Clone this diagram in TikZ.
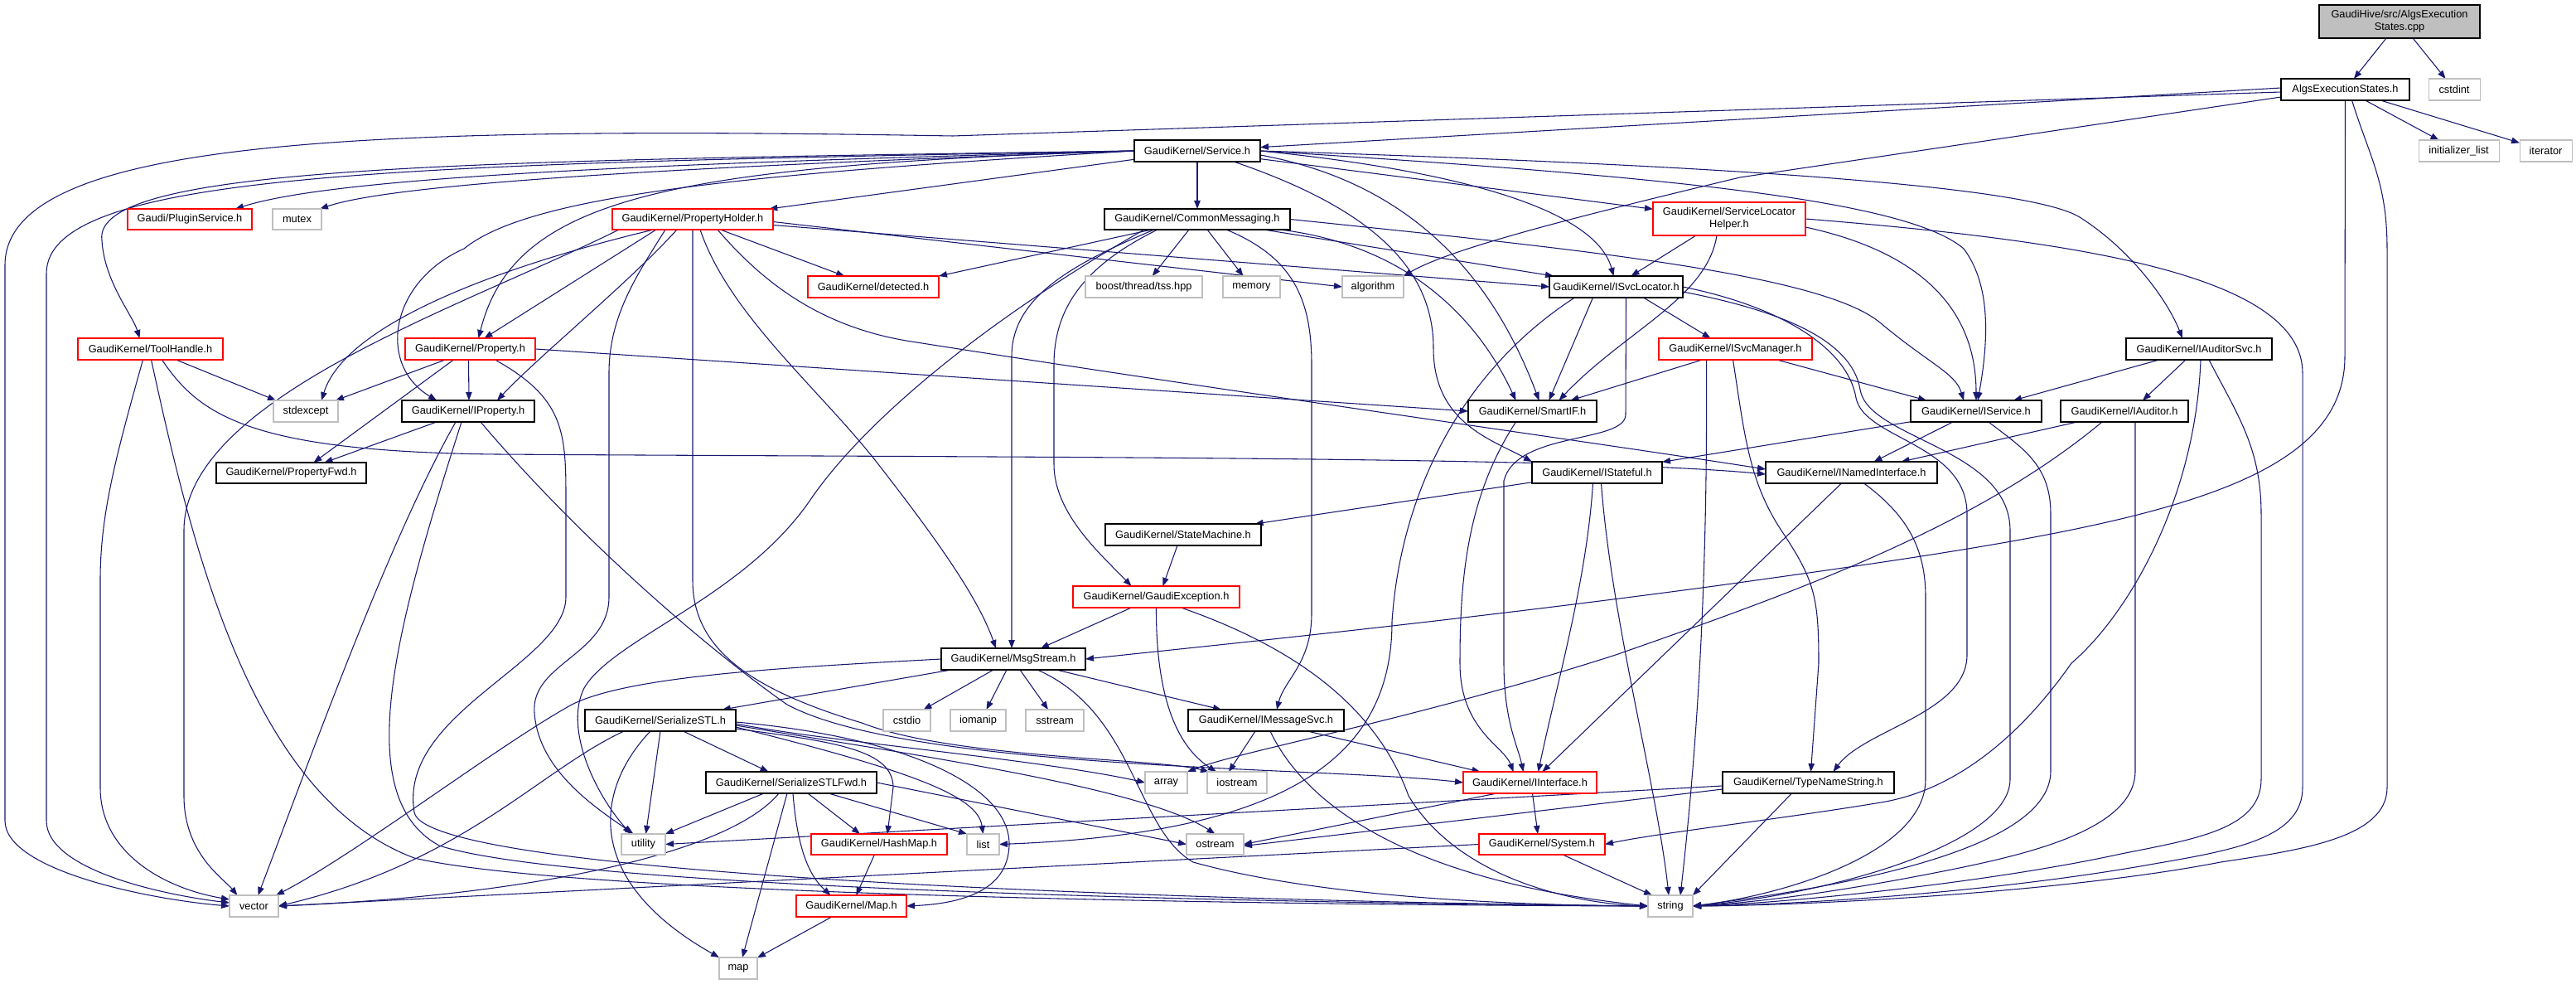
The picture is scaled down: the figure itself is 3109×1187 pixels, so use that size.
\documentclass[tikz,border=0pt]{standalone}
\usepackage{fontspec}
\setmainfont{Liberation Sans}
\usetikzlibrary{arrows.meta,calc}
\definecolor{edgeblue}{HTML}{191970}
\definecolor{boxgray}{HTML}{BFBFBF}
\pgfdeclarelayer{bg}
\pgfdeclarelayer{edges}
\pgfsetlayers{bg,edges,main}
\newcommand\nd[7]{\node[#6,minimum width={(#4-#2)*0.75pt},minimum height={(#5-#3)*0.75pt}] (#1) at ({(#2+#4)/2},{(#3+#5)/2}) {#7};}
\begin{document}
\begin{tikzpicture}[x=0.75pt,y=-0.75pt,
  base/.style={rectangle,inner sep=0pt,outer sep=0pt,align=center,fill=white,line width=0.8pt,font=\fontsize{9.6pt}{11.25pt}\selectfont},
  blk/.style={base,draw=black,line width=1pt},
  redb/.style={base,draw=red},
  gryb/.style={base,draw=boxgray},
  topb/.style={base,draw=black,line width=1pt,fill=boxgray},
  edg/.style={draw=edgeblue,line width=0.8pt,-{Triangle[length=7.5pt,width=5.6pt]}}]
\begin{pgfonlayer}{bg}
\fill[white] (0,0) rectangle (3109,1187);
\end{pgfonlayer}
\useasboundingbox (0,0) rectangle (3109,1187);
% ---------------- nodes ----------------
\nd{cpp}{2799}{6}{2993}{46}{topb}{GaudiHive/src/AlgsExecution\\States.cpp}
\nd{AES}{2753}{95}{2908}{121}{blk}{AlgsExecutionStates.h}
\nd{cstdint}{2931}{95}{2993}{121}{gryb}{cstdint}
\nd{Service}{1369}{169}{1521}{195}{blk}{GaudiKernel/Service.h}
\nd{initlist}{2919}{169}{3016}{195}{gryb}{initializer\_list}
\nd{iterator}{3041}{169}{3104}{195}{gryb}{iterator}
\nd{PluginService}{154}{252}{304}{277}{redb}{Gaudi/PluginService.h}
\nd{mutex}{329}{252}{388}{277}{gryb}{mutex}
\nd{PH}{739}{252}{933}{277}{redb}{GaudiKernel/PropertyHolder.h}
\nd{CM}{1333}{252}{1557}{277}{blk}{GaudiKernel/CommonMessaging.h}
\nd{SLH}{1995}{244}{2179}{284}{redb}{GaudiKernel/ServiceLocator\\Helper.h}
\nd{detected}{975}{333}{1133}{359}{redb}{GaudiKernel/detected.h}
\nd{tss}{1310}{333}{1451}{359}{gryb}{boost/thread/tss.hpp}
\nd{memory}{1476}{333}{1545}{359}{gryb}{memory}
\nd{algorithm}{1620}{333}{1694}{359}{gryb}{algorithm}
\nd{ISvcLocator}{1870}{333}{2031}{359}{blk}{GaudiKernel/ISvcLocator.h}
\nd{ToolHandle}{94}{408}{269}{434}{redb}{GaudiKernel/ToolHandle.h}
\nd{Property}{489}{408}{646}{434}{redb}{GaudiKernel/Property.h}
\nd{ISvcManager}{2002}{408}{2187}{434}{redb}{GaudiKernel/ISvcManager.h}
\nd{IAuditorSvc}{2566}{408}{2742}{434}{blk}{GaudiKernel/IAuditorSvc.h}
\nd{stdexcept}{330}{483}{408}{509}{gryb}{stdexcept}
\nd{IProperty}{485}{483}{645}{509}{blk}{GaudiKernel/IProperty.h}
\nd{SmartIF}{1772}{483}{1927}{509}{blk}{GaudiKernel/SmartIF.h}
\nd{IService}{2306}{483}{2464}{509}{blk}{GaudiKernel/IService.h}
\nd{IAuditor}{2487}{483}{2641}{509}{blk}{GaudiKernel/IAuditor.h}
\nd{PropertyFwd}{261}{558}{442}{583}{blk}{GaudiKernel/PropertyFwd.h}
\nd{IStateful}{1849}{557}{2006}{583}{blk}{GaudiKernel/IStateful.h}
\nd{INI}{2131}{557}{2338}{583}{blk}{GaudiKernel/INamedInterface.h}
\nd{StateMachine}{1334}{632}{1522}{658}{blk}{GaudiKernel/StateMachine.h}
\nd{GE}{1295}{707}{1496}{733}{redb}{GaudiKernel/GaudiException.h}
\nd{MsgStream}{1136}{782}{1310}{808}{blk}{GaudiKernel/MsgStream.h}
\nd{SSTL}{706}{856}{888}{882}{blk}{GaudiKernel/SerializeSTL.h}
\nd{cstdio}{1066}{856}{1123}{882}{gryb}{cstdio}
\nd{iomanip}{1147}{856}{1214}{882}{gryb}{iomanip}
\nd{sstream}{1238}{856}{1308}{882}{gryb}{sstream}
\nd{IMessageSvc}{1434}{856}{1622}{882}{blk}{GaudiKernel/IMessageSvc.h}
\nd{SSTLFwd}{852}{931}{1058}{957}{blk}{GaudiKernel/SerializeSTLFwd.h}
\nd{array}{1382}{931}{1433}{957}{gryb}{array}
\nd{iostream}{1457}{931}{1529}{957}{gryb}{iostream}
\nd{IInterface}{1766}{931}{1927}{957}{redb}{GaudiKernel/IInterface.h}
\nd{TNS}{2079}{931}{2286}{957}{blk}{GaudiKernel/TypeNameString.h}
\nd{utility}{750}{1006}{803}{1031}{gryb}{utility}
\nd{HashMap}{979}{1006}{1143}{1031}{redb}{GaudiKernel/HashMap.h}
\nd{list}{1167}{1006}{1206}{1031}{gryb}{list}
\nd{ostream}{1432}{1006}{1501}{1031}{gryb}{ostream}
\nd{System}{1785}{1006}{1937}{1031}{redb}{GaudiKernel/System.h}
\nd{vector}{277}{1080}{336}{1106}{gryb}{vector}
\nd{Map}{961}{1080}{1094}{1106}{redb}{GaudiKernel/Map.h}
\nd{string}{1989}{1080}{2043}{1106}{gryb}{string}
\nd{map}{868}{1155}{914}{1181}{gryb}{map}
% ---------------- edges ----------------
\begin{pgfonlayer}{edges}
% cpp
\draw[edg] (cpp) -- (AES);
\draw[edg] (cpp) -- (cstdint);
% AlgsExecutionStates.h
\draw[edg] (AES) -- (initlist);
\draw[edg] (AES) -- (iterator);
\draw[edg] ($(AES.west)+(0,-2)$) -- (Service);
\draw[edg] ($(AES.west)+(0,3)$) -- (1150,164) .. controls (450,152) and (6,165) .. (6,320) -- (6,990) .. controls (6,1050) and (180,1085) .. (vector.west);
\draw[edg] ($(AES.west)+(0,9)$) -- (2100,214) .. controls (1900,262) and (1750,300) .. (algorithm.north east);
\draw[edg] (AES.south) -- (2830,430) .. controls (2830,600) and (2550,640) .. (2069,707) .. controls (1750,750) and (1450,780) .. (MsgStream.east);
\draw[edg] ($(AES.south)+(8,0)$) .. controls (2860,190) and (2881,220) .. (2881,300) -- (2881,950) .. controls (2881,1010) and (2780,1025) .. (2680,1040) .. controls (2500,1075) and (2200,1092) .. (string.east);
% Service.h
\draw[edg] (Service.west) .. controls (750,198) and (400,215) .. ($(PluginService.north east)+(-20,0)$);
\draw[edg] (Service.west) .. controls (850,200) and (480,220) .. ($(mutex.north east)+(-2,0)$);
\draw[edg] (Service) -- (PH);
\draw[edg] (Service) -- (CM);
\draw[edg] (Service.west) .. controls (550,194) and (110,200) .. (123,290) .. controls (126,340) and (160,380) .. ($(ToolHandle.north)+(-13,0)$);
\draw[edg] (Service.west) .. controls (500,198) and (56,205) .. (56,330) -- (56,990) .. controls (56,1050) and (200,1080) .. ($(vector.west)+(0,-4)$);
\draw[edg] (Service.west) .. controls (900,210) and (640,235) .. (560,300) .. controls (470,340) and (455,440) .. ($(IProperty.north)+(-38,0)$);
\draw[edg] (Service.west) .. controls (800,200) and (620,240) .. ($(Property.north)+(10,0)$);
\draw[edg] (Service) -- (SLH);
\draw[edg] (Service.east) .. controls (1750,205) and (1925,250) .. ($(ISvcLocator.north)+(-3,0)$);
\draw[edg] ($(Service.east)+(0,5)$) .. controls (1700,220) and (1800,330) .. ($(SmartIF.north)+(8,0)$);
\draw[edg] ($(Service.south)+(44,0)$) .. controls (1650,250) and (1730,320) .. (1730,420) .. controls (1730,510) and (1800,530) .. (IStateful.north west);
\draw[edg] (Service.east) .. controls (2000,212) and (2300,240) .. (2370,300) .. controls (2400,340) and (2402,400) .. ($(IService.north)+(2,0)$);
\draw[edg] (Service.east) .. controls (2100,200) and (2450,225) .. (2510,262) .. controls (2570,300) and (2615,360) .. ($(IAuditorSvc.north)+(-20,0)$);
% PropertyHolder.h
\draw[edg] (PH) -- (detected);
\draw[edg] ($(PH.east)+(0,3)$) -- (algorithm.west);
\draw[edg] ($(PH.east)+(0,7)$) -- (ISvcLocator.west);
\draw[edg] ($(PH.south)+(30,0)$) .. controls (920,340) and (990,395) .. (1100,412) .. controls (1500,475) and (1900,530) .. ($(INI.west)+(0,-4)$);
\draw[edg] ($(PH.south)+(-47,0)$) .. controls (650,310) and (420,380) .. ($(stdexcept.north)+(19,0)$);
\draw[edg] ($(PH.south)+(-44,0)$) -- ($(Property.north)+(17,0)$);
\draw[edg] ($(PH.south)+(-19,0)$) .. controls (760,340) and (650,430) .. ($(IProperty.north)+(35,0)$);
\draw[edg] ($(PH.south)+(-89,0)$) .. controls (560,370) and (222,480) .. (222,640) -- (222,960) .. controls (222,1030) and (270,1060) .. ($(vector.north)+(-20,0)$);
\draw[edg] ($(PH.south)+(-33,0)$) .. controls (770,330) and (735,380) .. (735,450) -- (735,720) .. controls (735,790) and (640,800) .. (645,860) .. controls (650,930) and (720,975) .. ($(utility.north)+(-12,0)$);
\draw[edg] ($(PH.south)+(9,0)$) .. controls (880,380) and (990,470) .. (1060,560) .. controls (1130,650) and (1180,720) .. ($(MsgStream.north)+(-21,0)$);
\draw[edg] (PH.south) -- (836,700) .. controls (836,780) and (900,830) .. (1040,872) .. controls (1150,915) and (1400,915) .. ($(iostream.north west)+(2,0)$);
% CommonMessaging.h
\draw[edg] ($(CM.south)+(-55,0)$) -- (detected.north east);
\draw[edg] ($(CM.south)+(-10,0)$) -- (tss);
\draw[edg] ($(CM.south)+(12,0)$) -- (memory);
\draw[edg] ($(CM.south)+(80,0)$) -- ($(ISvcLocator.north west)+(5,0)$);
\draw[edg] ($(CM.south)+(100,0)$) .. controls (1730,300) and (1800,420) .. ($(SmartIF.north)+(-20,0)$);
\draw[edg] (CM.east) .. controls (1900,300) and (2200,330) .. (2270,390) .. controls (2330,440) and (2360,450) .. ($(IService.north)+(-15,0)$);
\draw[edg] ($(CM.south)+(-52,0)$) .. controls (1290,320) and (1221,360) .. (1221,430) -- ($(MsgStream.north)+(-2,0)$);
\draw[edg] ($(CM.south)+(-48,0)$) .. controls (1310,320) and (1272,370) .. (1272,440) -- (1272,560) .. controls (1272,620) and (1330,670) .. ($(GE.north)+(-30,0)$);
\draw[edg] ($(CM.south)+(35,0)$) .. controls (1560,310) and (1583,360) .. (1583,440) -- (1583,740) .. controls (1583,800) and (1550,820) .. ($(IMessageSvc.north)+(13,0)$);
\draw[edg] ($(CM.south)+(-64,0)$) .. controls (1200,380) and (1050,500) .. (980,600) .. controls (900,720) and (740,770) .. (705,830) .. controls (680,880) and (720,960) .. ($(utility.north)+(-15,0)$);
% ServiceLocatorHelper.h
\draw[edg] ($(SLH.south)+(-40,0)$) -- ($(ISvcLocator.north)+(18,0)$);
\draw[edg] ($(SLH.south)+(-15,0)$) .. controls (2060,360) and (1960,400) .. ($(SmartIF.north)+(32,0)$);
\draw[edg] ($(SLH.east)+(0,10)$) .. controls (2300,300) and (2385,360) .. (IService.north);
\draw[edg] (SLH.east) .. controls (2500,290) and (2779,330) .. (2779,450) -- (2779,950) .. controls (2779,1010) and (2700,1025) .. (2600,1042) .. controls (2400,1078) and (2150,1092) .. (string.east);
% ISvcLocator.h
\draw[edg] ($(ISvcLocator.south)+(33,0)$) -- ($(ISvcManager.north)+(-30,0)$);
\draw[edg] ($(ISvcLocator.south)+(-28,0)$) -- ($(SmartIF.north)+(20,0)$);
\draw[edg] ($(ISvcLocator.south)+(-50,0)$) .. controls (1760,450) and (1690,600) .. (1680,750) .. controls (1680,910) and (1560,1005) .. (list.east);
\draw[edg] ($(ISvcLocator.south)+(12,0)$) -- (1962,500) .. controls (1962,535) and (1830,520) .. (1815,580) -- (1815,800) .. controls (1815,870) and (1832,900) .. ($(IInterface.north)+(-8,0)$);
\draw[edg] (ISvcLocator.east) .. controls (2150,370) and (2230,420) .. (2240,480) .. controls (2250,530) and (2374,535) .. (2374,620) -- (2374,790) .. controls (2374,860) and (2250,880) .. ($(TNS.north)+(30,0)$);
\draw[edg] ($(ISvcLocator.east)+(0,6)$) .. controls (2150,375) and (2235,410) .. (2245,470) .. controls (2255,530) and (2426,540) .. (2426,640) -- (2426,940) .. controls (2426,1020) and (2200,1080) .. (string.east);
% ISvcManager.h
\draw[edg] ($(ISvcManager.south)+(50,0)$) -- ($(IService.north)+(-60,0)$);
\draw[edg] ($(ISvcManager.south)+(-40,0)$) -- ($(SmartIF.north)+(46,0)$);
\draw[edg] ($(ISvcManager.south)+(-3,0)$) .. controls (2105,520) and (2110,580) .. (2150,640) .. controls (2190,700) and (2195,720) .. (2195,800) -- ($(TNS.north)+(3,0)$);
\draw[edg] ($(ISvcManager.south)+(-35,0)$) .. controls (2060,560) and (2060,800) .. ($(string.north)+(12,0)$);
% IAuditorSvc.h
\draw[edg] ($(IAuditorSvc.south)+(-48,0)$) -- ($(IService.north)+(45,0)$);
\draw[edg] ($(IAuditorSvc.south)+(-16,0)$) -- ($(IAuditor.north)+(22,0)$);
\draw[edg] ($(IAuditorSvc.south)+(2,0)$) .. controls (2650,600) and (2570,740) .. (2500,800) .. controls (2430,900) and (2350,955) .. (2270,968) .. controls (2150,988) and (2000,1005) .. (System.east);
\draw[edg] ($(IAuditorSvc.south)+(12,0)$) .. controls (2700,500) and (2729,540) .. (2729,620) -- (2729,940) .. controls (2729,1000) and (2650,1012) .. (2560,1030) .. controls (2400,1065) and (2150,1090) .. (string.east);
% IAuditor.h
\draw[edg] ($(IAuditor.south)+(-57,0)$) -- ($(INI.north)+(60,0)$);
\draw[edg] ($(IAuditor.south)+(-27,0)$) .. controls (2380,640) and (2150,720) .. (1950,790) .. controls (1700,870) and (1500,905) .. (array.north east);
\draw[edg] ($(IAuditor.south)+(13,0)$) -- (2577,930) .. controls (2577,1000) and (2450,1030) .. (2350,1050) .. controls (2200,1080) and (2100,1090) .. (string.east);
% IService.h
\draw[edg] ($(IService.south)+(-28,0)$) -- ($(INI.north)+(27,0)$);
\draw[edg] (IService) -- (IStateful);
\draw[edg] ($(IService.south)+(15,0)$) .. controls (2440,540) and (2475,560) .. (2475,620) -- (2475,930) .. controls (2475,1010) and (2300,1060) .. (string.east);
% INamedInterface.h
\draw[edg] ($(INI.south)+(-12,0)$) -- ($(IInterface.north)+(15,0)$);
\draw[edg] ($(INI.south)+(15,0)$) .. controls (2300,620) and (2324,660) .. (2324,720) -- (2324,940) .. controls (2324,1030) and (2150,1080) .. (string.east);
% IStateful.h
\draw[edg] (IStateful) -- (StateMachine);
\draw[edg] ($(IStateful.south)+(-5,0)$) .. controls (1915,700) and (1880,820) .. ($(IInterface.north)+(10,0)$);
\draw[edg] ($(IStateful.south)+(5,0)$) .. controls (1945,750) and (2000,950) .. ($(string.north)+(-2,0)$);
% SmartIF.h
\draw[edg] ($(SmartIF.south)+(-20,0)$) .. controls (1770,600) and (1762,700) .. (1762,800) .. controls (1762,880) and (1815,900) .. ($(IInterface.north)+(-20,0)$);
% StateMachine.h
\draw[edg] ($(StateMachine.south)+(-7,0)$) -- ($(GE.north)+(8,0)$);
% GaudiException.h
\draw[edg] ($(GE.south)+(-30,0)$) -- ($(MsgStream.north)+(33,0)$);
\draw[edg] (GE.south) .. controls (1395,840) and (1420,900) .. ($(iostream.north)+(-25,0)$);
\draw[edg] ($(GE.south)+(30,0)$) .. controls (1560,780) and (1660,850) .. (1700,960) .. controls (1760,1060) and (1900,1090) .. (string.west);
% MsgStream.h
\draw[edg] (MsgStream) -- (SSTL);
\draw[edg] ($(MsgStream.south)+(-24,0)$) -- ($(cstdio.north)+(20,0)$);
\draw[edg] ($(MsgStream.south)+(-8,0)$) -- ($(iomanip.north)+(10,0)$);
\draw[edg] ($(MsgStream.south)+(8,0)$) -- ($(sstream.north)+(-8,0)$);
\draw[edg] ($(MsgStream.south)+(52,0)$) -- ($(IMessageSvc.north)+(-54,0)$);
\draw[edg] ($(MsgStream.south)+(29,0)$) .. controls (1370,860) and (1370,1000) .. (1440,1040) .. controls (1600,1085) and (1850,1092) .. (string.west);
\draw[edg] (MsgStream.west) .. controls (950,805) and (760,815) .. (690,850) .. controls (600,900) and (430,1030) .. ($(vector.north east)+(-3,0)$);
% IMessageSvc.h
\draw[edg] ($(IMessageSvc.south)+(-13,0)$) -- ($(iostream.north)+(-10,0)$);
\draw[edg] ($(IMessageSvc.south)+(50,0)$) -- ($(IInterface.north)+(-60,0)$);
\draw[edg] ($(IMessageSvc.south)+(5,0)$) .. controls (1570,960) and (1680,1060) .. (string.west);
% SerializeSTL.h
\draw[edg] (SSTL) -- (SSTLFwd);
\draw[edg] (SSTL.south) -- ($(utility.north)+(3,0)$);
\draw[edg] ($(SSTL.south)+(-44,0)$) .. controls (650,930) and (560,1040) .. (vector.east);
\draw[edg] ($(SSTL.south)+(-12,0)$) .. controls (720,950) and (700,1060) .. (map.north west);
\draw[edg] ($(SSTL.east)+(0,4)$) .. controls (1000,895) and (1250,915) .. (array.west);
\draw[edg] ($(SSTL.east)+(0,6)$) .. controls (1100,910) and (1380,950) .. (ostream.north);
\draw[edg] ($(SSTL.east)+(0,8)$) .. controls (1100,930) and (1180,960) .. (list.north);
\draw[edg] ($(SSTL.east)+(0,10)$) .. controls (1010,895) and (1078,905) .. (1078,950) -- ($(HashMap.north)+(10,0)$);
\draw[edg] ($(SSTL.east)+(0,2)$) .. controls (1100,890) and (1220,950) .. (1218,1020) .. controls (1216,1075) and (1160,1090) .. (Map.east);
% SerializeSTLFwd.h
\draw[edg] ($(SSTLFwd.south)+(-33,0)$) -- (utility.north east);
\draw[edg] ($(SSTLFwd.south)+(-15,0)$) .. controls (880,1030) and (640,1080) .. (vector.east);
\draw[edg] ($(SSTLFwd.south)+(-5,0)$) -- ($(map.north)+(5,0)$);
\draw[edg] ($(SSTLFwd.south)+(2,0)$) .. controls (962,1020) and (975,1055) .. ($(Map.north)+(-25,0)$);
\draw[edg] ($(SSTLFwd.south)+(20,0)$) -- ($(HashMap.north)+(-23,0)$);
\draw[edg] ($(SSTLFwd.south)+(45,0)$) -- (list.north west);
\draw[edg] (SSTLFwd.east) -- (ostream.west);
% HashMap.h, Map.h
\draw[edg] (HashMap) -- (Map);
\draw[edg] (Map) -- (map);
% IInterface.h
\draw[edg] ($(IInterface.south)+(-40,0)$) -- (ostream.east);
\draw[edg] ($(IInterface.south)+(3,0)$) -- ($(System.north)+(-5,0)$);
% TypeNameString.h
\draw[edg] ($(TNS.west)+(0,4)$) -- (utility.east);
\draw[edg] ($(TNS.west)+(0,8)$) -- ($(ostream.east)+(0,2)$);
\draw[edg] ($(TNS.south)+(-20,0)$) -- (string.north east);
% System.h
\draw[edg] (System.west) -- (vector.east);
\draw[edg] ($(System.south)+(25,0)$) -- ($(string.north west)+(5,0)$);
% IProperty.h
\draw[edg] ($(IProperty.south)+(-38,0)$) -- ($(PropertyFwd.north)+(40,0)$);
\draw[edg] ($(IProperty.south)+(-15,0)$) .. controls (470,650) and (380,900) .. ($(vector.north)+(5,0)$);
\draw[edg] ($(IProperty.south)+(-8,0)$) .. controls (480,750) and (420,960) .. (530,1020) .. controls (700,1075) and (1600,1090) .. (string.west);
\draw[edg] ($(IProperty.south)+(15,0)$) .. controls (700,650) and (850,780) .. (950,850) .. controls (1100,930) and (1600,925) .. (IInterface.west);
% Property.h
\draw[edg] ($(Property.south)+(-30,0)$) -- ($(stdexcept.north east)+(-3,0)$);
\draw[edg] ($(Property.south)+(-20,0)$) -- ($(PropertyFwd.north)+(27,0)$);
\draw[edg] ($(Property.south)+(-2,0)$) -- ($(IProperty.north)+(1,0)$);
\draw[edg] (Property.east) -- (SmartIF.west);
\draw[edg] ($(Property.south)+(30,0)$) .. controls (680,480) and (683,520) .. (683,600) -- (683,720) .. controls (683,800) and (480,860) .. (500,980) .. controls (515,1060) and (1500,1088) .. (string.west);
% ToolHandle.h
\draw[edg] ($(ToolHandle.south)+(31,0)$) -- ($(stdexcept.north west)+(3,0)$);
\draw[edg] ($(ToolHandle.south)+(14,0)$) .. controls (240,500) and (300,545) .. (600,548) .. controls (1200,552) and (1900,550) .. ($(INI.west)+(0,2)$);
\draw[edg] ($(ToolHandle.south)+(-9,0)$) .. controls (140,550) and (121,620) .. (121,700) -- (121,950) .. controls (121,1030) and (200,1072) .. ($(vector.west)+(0,-8)$);
\draw[edg] ($(ToolHandle.south)+(1,0)$) .. controls (230,650) and (300,960) .. (500,1035) .. controls (700,1082) and (1600,1092) .. (string.west);
\end{pgfonlayer}
\end{tikzpicture}
\end{document}
